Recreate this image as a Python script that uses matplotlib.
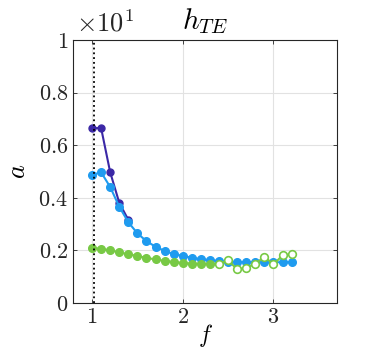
import matplotlib
matplotlib.use("Agg")
import matplotlib.pyplot as plt
import numpy as np

plt.rcParams['mathtext.fontset'] = 'cm'
plt.rcParams['font.family'] = 'serif'
plt.rcParams['font.serif'] = ['cmr10', 'DejaVu Serif']
plt.rcParams['axes.formatter.use_mathtext'] = True

# frequency steps
f_purple = [1.0, 1.1, 1.2, 1.3, 1.4]
a_purple = [0.665, 0.665, 0.497, 0.381, 0.316]

f_blue = [1.0, 1.1, 1.2, 1.3, 1.4, 1.5, 1.6, 1.7, 1.8, 1.9, 2.0, 2.1,
          2.2, 2.3, 2.4, 2.5, 2.6, 2.7, 2.8, 2.9, 3.0, 3.1, 3.2]
a_blue = [0.487, 0.497, 0.441, 0.366, 0.307, 0.265, 0.235, 0.214, 0.198,
          0.186, 0.179, 0.172, 0.167, 0.163, 0.160, 0.157, 0.156, 0.155,
          0.155, 0.155, 0.155, 0.155, 0.155]

f_green = [1.0, 1.1, 1.2, 1.3, 1.4, 1.5, 1.6, 1.7, 1.8, 1.9, 2.0, 2.1,
           2.2, 2.3, 2.4, 2.5, 2.6, 2.7, 2.8, 2.9, 3.0, 3.1, 3.2]
a_green = [0.210, 0.206, 0.200, 0.193, 0.185, 0.179, 0.171, 0.166, 0.160,
           0.156, 0.152, 0.150, 0.150, 0.149, 0.149, 0.162, 0.128, 0.134,
           0.149, 0.176, 0.147, 0.181, 0.186]
green_filled = [True] * 14 + [False] * 9

f_cut = 1.025

purple = '#3b28a6'
blue = '#1f9bef'
green = '#78c945'

fig = plt.figure(figsize=(3.73, 3.5), dpi=100)
ax = fig.add_axes([73 / 373, 47 / 350, 264 / 373, 263 / 350])

ax.plot(f_purple, a_purple, '-o', color=purple, lw=1.5, ms=5, zorder=2)
ax.plot(f_blue, a_blue, '-o', color=blue, lw=1.5, ms=5.5, zorder=3)

fg = np.array(f_green)
ag = np.array(a_green)
m = np.array(green_filled)
ax.plot(fg, ag, '-', color=green, lw=1.5, zorder=4)
ax.plot(fg[m], ag[m], 'o', color=green, ms=5.5, zorder=4)
ax.plot(fg[~m], ag[~m], 'o', mfc='white', mec=green, mew=1.2, ms=5.5, zorder=4)

ax.axvline(f_cut, color='black', ls=':', lw=1.3, zorder=5)

ax.set_xlim(0.79, 3.7)
ax.set_ylim(0, 1)
ax.set_xticks([1, 2, 3])
ax.set_xticklabels(['$1$', '$2$', '$3$'])
ax.set_yticks([0, 0.2, 0.4, 0.6, 0.8, 1])
ax.set_yticklabels(['$0$', '$0.2$', '$0.4$', '$0.6$', '$0.8$', '$1$'])
ax.tick_params(direction='in', length=3, labelsize=16, colors='#262626',
               top=True, right=True, width=0.6)
ax.grid(True, color='#e2e2e2', lw=0.8)
ax.set_axisbelow(True)
for s in ax.spines.values():
    s.set_color('#262626')
    s.set_linewidth(0.8)

ax.set_title('$h_{TE}$', fontsize=21, pad=8)
ax.set_ylabel('$a$', fontsize=19, labelpad=6)
ax.set_xlabel('$f$', fontsize=17, labelpad=-4)
ax.text(0.01, 1.015, r'$\times 10^{1}$', transform=ax.transAxes,
        fontsize=19, ha='left', va='bottom', color='#262626')

fig.savefig('out.png', dpi=100)
